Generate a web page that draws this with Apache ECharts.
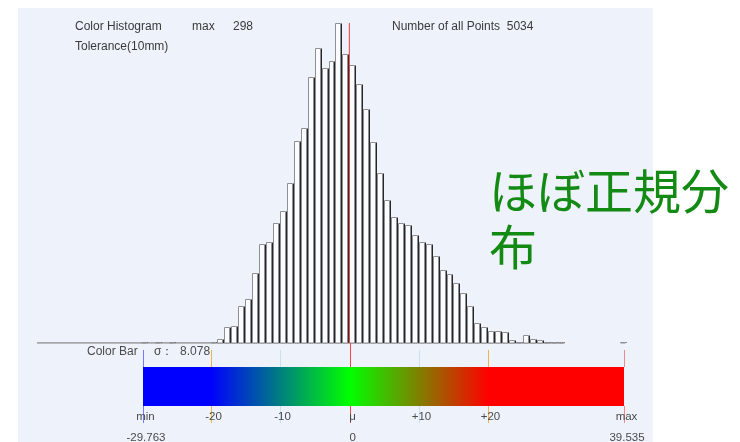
<!DOCTYPE html>
<html>
<head>
<meta charset="utf-8">
<script src="https://cdn.jsdelivr.net/npm/echarts@6/dist/echarts.min.js"></script>
<style>
  html, body { margin: 0; padding: 0; background: #fff; }
  #main { width: 740px; height: 442px; }
</style>
</head>
<body>
<div id="main"></div>
<script>
// histogram: start of each 1-unit bin and its count (empty bins omitted)
const binStarts = [-30, -28, -26, -20, -19, -18, -17, -16, -15, -14, -13, -12, -11, -10, -9, -8, -7, -6, -5, -4, -3, -2, -1,
  0, 1, 2, 3, 4, 5, 6, 7, 8, 9, 10, 11, 12, 13, 14, 15, 16, 17, 18, 19, 20, 21, 22, 23, 24, 25, 26, 27, 28, 29, 30, 39];
const binCounts = [1, 1, 1, 1, 4, 15, 16, 34, 41, 65, 92, 94, 112, 123, 149, 188, 200, 248, 275, 256, 263, 298, 269,
  259, 241, 218, 187, 158, 133, 117, 112, 110, 101, 94, 92, 81, 68, 64, 56, 47, 34, 19, 15, 11, 11, 10, 3, 1, 7, 4, 3, 1, 1, 1, 1];
const binWidth = 1;
const baseRange = [-45, 31];   // drawn baseline
const histMax = 298;
const totalPoints = 5034;
const meanValue = 0;
const sigma = 8.078;

// color bar
const cbMin = -29.763;
const cbMax = 39.535;
const gradValues = [-20, 0, 20];
const gradColors = ['#0000ff', '#00ff00', '#ff0000'];
const tickValues = [cbMin, -20, -10, 0, 10, 20, cbMax];
const tickLabels = ['min', '-20', '-10', 'μ', '+10', '+20', 'max'];
const rangeValues = [cbMin, 0, cbMax];
const rangeLabels = ['-29.763', '0', '39.535'];

const tickColors = ['#7878ff', '#f2b24a', '#c8e2f2', '#f04848', '#c8e2f2', '#f2b24a', '#f08a8a'];
const txtFont = 'Liberation Sans, Arial, sans-serif';

const chart = echarts.init(document.getElementById('main'));

const histData = binStarts.map((s, i) => [s, binCounts[i]]);

function renderBin(params, api) {
  const x0 = api.value(0);
  const c = api.value(1);
  const pTop = api.coord([x0, c]);
  const pEnd = api.coord([x0 + binWidth, 0]);
  const l = Math.round(pTop[0]) + 0.5;
  const r = Math.round(pEnd[0]) - 0.5;
  const t = Math.round(pTop[1]) + 0.5;
  const b = Math.round(pEnd[1]);
  return {
    type: 'group',
    children: [
      { type: 'rect', shape: { x: l, y: t, width: r - l - 1, height: b - t },
        style: { fill: '#fbfcff', stroke: '#8e8e94', lineWidth: 1 } },
      { type: 'line', shape: { x1: r, y1: t, x2: r, y2: b },
        style: { stroke: '#262626', lineWidth: 1 } }
    ]
  };
}

function renderColorBar(params, api) {
  const p0 = api.coord([cbMin, 1]);
  const p1 = api.coord([cbMax, 0]);
  const span = cbMax - cbMin;
  const stops = gradValues.map((v, i) => ({ offset: (v - cbMin) / span, color: gradColors[i] }));
  const children = [{
    type: 'rect',
    shape: { x: p0[0], y: p0[1], width: p1[0] - p0[0], height: p1[1] - p0[1] },
    style: { fill: { type: 'linear', x: 0, y: 0, x2: 1, y2: 0, colorStops: stops } },
    z2: 10
  }];
  tickValues.forEach((v, i) => {
    const x = Math.round(api.coord([v, 0])[0]) + 0.5;
    const up = v === meanValue ? 24 : 17;
    children.push({ type: 'line', shape: { x1: x, y1: p0[1] - up, x2: x, y2: p0[1] },
      style: { stroke: tickColors[i], lineWidth: 1 }, z2: 5 });
    children.push({ type: 'line', shape: { x1: x, y1: p1[1], x2: x, y2: p1[1] + 17 },
      style: { stroke: tickColors[i], lineWidth: 1 }, z2: 5 });
    children.push({ type: 'text', x: x + 2, y: p1[1] + 11,
      style: { text: tickLabels[i], fill: '#4a4a4a', font: '11.5px ' + txtFont, align: 'center', verticalAlign: 'middle' }, z2: 6 });
  });
  rangeValues.forEach((v, i) => {
    const x = api.coord([v, 0])[0];
    children.push({ type: 'text', x: x + 3, y: p1[1] + 32,
      style: { text: rangeLabels[i], fill: '#4a4a4a', font: '11.5px ' + txtFont, align: 'center', verticalAlign: 'middle' } });
  });
  return { type: 'group', children };
}

const option = {
  backgroundColor: '#ffffff',
  animation: false,
  grid: [
    { left: 37, top: 23, width: 624.7, height: 320 },
    { left: 143, top: 367, width: 481, height: 39 }
  ],
  xAxis: [
    { type: 'value', gridIndex: 0, min: -45, max: 45, show: false },
    { type: 'value', gridIndex: 1, min: cbMin, max: cbMax, show: false }
  ],
  yAxis: [
    { type: 'value', gridIndex: 0, min: 0, max: histMax, show: false },
    { type: 'value', gridIndex: 1, min: 0, max: 1, show: false }
  ],
  graphic: [
    { type: 'rect', shape: { x: 18, y: 8, width: 635, height: 434 }, style: { fill: '#eef2fb' }, z: -10 },
    { type: 'text', x: 75, y: 27, style: { text: 'Color Histogram', fill: '#3a3a3a', font: '12px ' + txtFont, verticalAlign: 'middle' } },
    { type: 'text', x: 192, y: 27, style: { text: 'max', fill: '#3a3a3a', font: '12px ' + txtFont, verticalAlign: 'middle' } },
    { type: 'text', x: 233, y: 27, style: { text: String(histMax), fill: '#3a3a3a', font: '12px ' + txtFont, verticalAlign: 'middle' } },
    { type: 'text', x: 75, y: 47, style: { text: 'Tolerance(10mm)', fill: '#3a3a3a', font: '12px ' + txtFont, verticalAlign: 'middle' } },
    { type: 'text', x: 392, y: 27, style: { text: 'Number of all Points  ' + totalPoints, fill: '#3a3a3a', font: '12px ' + txtFont, verticalAlign: 'middle' } },
    { type: 'text', x: 87, y: 352, style: { text: 'Color Bar', fill: '#4a4a4a', font: '12px ' + txtFont, verticalAlign: 'middle' } },
    { type: 'text', x: 154, y: 352, style: { text: 'σ：  ' + sigma.toFixed(3), fill: '#4a4a4a', font: '12px ' + txtFont, verticalAlign: 'middle' } },
    { type: 'text', x: 489, y: 191, style: { text: 'ほぼ正規分', fill: '#138a14', font: '48px "Noto Sans CJK JP"', verticalAlign: 'middle' } },
    { type: 'text', x: 489, y: 247, style: { text: '布', fill: '#138a14', font: '48px "Noto Sans CJK JP"', verticalAlign: 'middle' } }
  ],
  series: [
    {
      type: 'line', xAxisIndex: 0, yAxisIndex: 0,
      data: baseRange.map(v => [v, 0]),
      symbol: 'none', lineStyle: { color: '#8e8e8e', width: 1.5 }, z: 1
    },
    {
      type: 'custom', xAxisIndex: 0, yAxisIndex: 0,
      data: histData, renderItem: renderBin, z: 2
    },
    {
      type: 'line', xAxisIndex: 0, yAxisIndex: 0,
      data: [[meanValue, 0], [meanValue, histMax]],
      symbol: 'none', lineStyle: { color: '#ee3b3b', width: 1 }, z: 3
    },
    {
      type: 'custom', xAxisIndex: 1, yAxisIndex: 1,
      data: [[cbMin, cbMax]], renderItem: renderColorBar, z: 4
    }
  ]
};

chart.setOption(option);
</script>
</body>
</html>
